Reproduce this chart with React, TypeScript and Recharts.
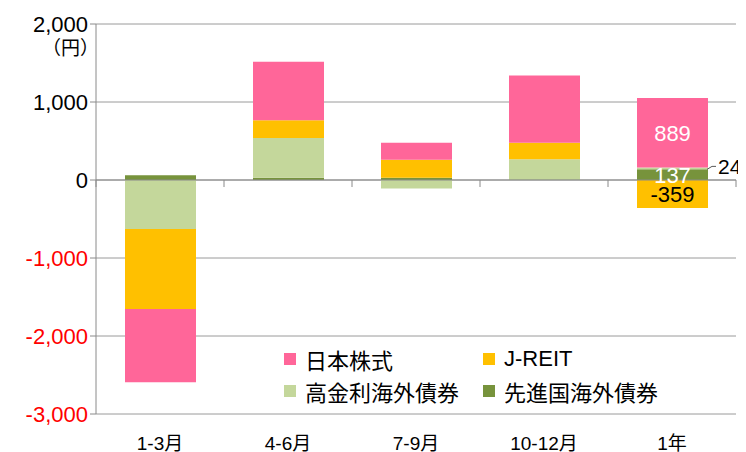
import { BarChart, Bar, XAxis, YAxis, CartesianGrid, ReferenceLine, LabelList } from "recharts";

const categories = ["1-3月", "4-6月", "7-9月", "10-12月", "1年"];

// stack order bottom -> top
const developedBonds = [60, 30, 30, 5, 137];
const highYieldBonds = [-628, 510, -110, 260, 24];
const jReit = [-1025, 226, 230, 214, -359];
const japanStocks = [-940, 750, 218, 860, 889];

const yTicks = [-3000, -2000, -1000, 0, 1000, 2000];
const boundaryTicks = [0, 1, 2, 3, 4, 5];

const series = [
  { key: "developed", name: "先進国海外債券", color: "#77933C", values: developedBonds, labelColor: "#fff" },
  { key: "highYield", name: "高金利海外債券", color: "#C4D79B", values: highYieldBonds, labelColor: "#000" },
  { key: "reit", name: "J-REIT", color: "#FFC000", values: jReit, labelColor: "#000" },
  { key: "stocks", name: "日本株式", color: "#FF6699", values: japanStocks, labelColor: "#fff" },
];

const legendOrder = ["stocks", "reit", "highYield", "developed"];

const data = categories.map((name, i) => {
  const row: any = { name, pos: i + 0.5 };
  series.forEach((s) => (row[s.key] = s.values[i]));
  return row;
});

const FONT = "'Liberation Sans', Arial, 'Noto Sans CJK JP', sans-serif";

const fmt = (v: number) => v.toLocaleString("en-US");

function YTick({ x, y, payload }: any) {
  const v = payload.value;
  return (
    <text x={x} y={y} dy={8} textAnchor="end" fontSize={22} fontFamily={FONT} fill={v < 0 ? "#FF0000" : "#000"}>
      {fmt(v)}
    </text>
  );
}

function XTick({ x, y, payload }: any) {
  return (
    <text x={x} y={y} dy={28} textAnchor="middle" fontSize={19} fontFamily={FONT} fill="#000">
      {payload.value}
    </text>
  );
}

// only the annual bar carries value labels
const makeLabel = (color: string, outside: boolean) => (props: any) => {
  const { x, y, width, height, value, index } = props;
  if (index !== 4) return null;
  const cy = y + height / 2;
  if (outside) {
    const x0 = x + width;
    return (
      <g>
        <path d={`M${x0 - 1},${cy + 1} L${x0 + 4},${cy - 2} L${x0 + 8},${cy - 2}`} stroke="#595959" fill="none" strokeWidth={1} />
        <text x={x0 + 10} y={cy - 2} dy={8} fontSize={21} fontFamily={FONT} fill="#000">
          {value}
        </text>
      </g>
    );
  }
  return (
    <text x={x + width / 2} y={cy} dy={8} textAnchor="middle" fontSize={22} fontFamily={FONT} fill={color}>
      {value}
    </text>
  );
};

function LegendBox() {
  const items = legendOrder.map((k) => series.find((s) => s.key === k)!);
  return (
    <div
      style={{
        position: "absolute",
        left: 276,
        top: 337,
        display: "grid",
        gridTemplateColumns: "199px 190px",
        rowGap: 5,
        fontFamily: FONT,
        fontSize: 22,
        color: "#000",
      }}
    >
      {items.map((s) => (
        <div key={s.key} style={{ display: "flex", alignItems: "center", height: 27, whiteSpace: "nowrap" }}>
          <span style={{ width: 12, height: 12, background: s.color, display: "inline-block", marginRight: 9 }} />
          <span>{s.name}</span>
        </div>
      ))}
    </div>
  );
}

export default function App() {
  return (
    <div style={{ position: "relative", width: 738, height: 444, fontFamily: FONT }}>
      <BarChart
        width={738}
        height={444}
        data={data}
        stackOffset="sign"
        margin={{ top: 16, right: 10, left: 0, bottom: 0 }}
        style={{ overflow: "visible" }}
      >
        <CartesianGrid vertical={false} stroke="#9a9a9a" />
        <XAxis
          dataKey="name"
          height={38}
          axisLine={false}
          tickLine={false}
          tick={<XTick />}
        />
        <XAxis xAxisId="bounds" type="number" dataKey="pos" domain={[0, 5]} hide />
        <YAxis
          domain={[-3000, 2000]}
          ticks={yTicks}
          width={88}
          interval={0}
          axisLine={{ stroke: "#8a8a8a" }}
          tickLine={{ stroke: "#8a8a8a" }}
          tickSize={6}
          tick={<YTick />}
        />
        <ReferenceLine y={0} stroke="#8a8a8a" />
        {boundaryTicks.map((t) => (
          <ReferenceLine
            key={t}
            xAxisId="bounds"
            segment={[
              { x: t, y: 0 },
              { x: t, y: -90 },
            ]}
            stroke="#8a8a8a"
          />
        ))}
        {series.map((s) => (
          <Bar key={s.key} dataKey={s.key} name={s.name} stackId="a" fill={s.color} barSize={71} isAnimationActive={false}>
            <LabelList dataKey={s.key} content={makeLabel(s.labelColor, s.key === "highYield")} />
          </Bar>
        ))}
      </BarChart>
      <LegendBox />
      <div
        style={{
          position: "absolute",
          left: 34,
          top: 25,
          fontSize: 19,
          fontFamily: "'Noto Sans CJK JP', sans-serif",
          color: "#000",
        }}
      >
        （円）
      </div>
    </div>
  );
}
